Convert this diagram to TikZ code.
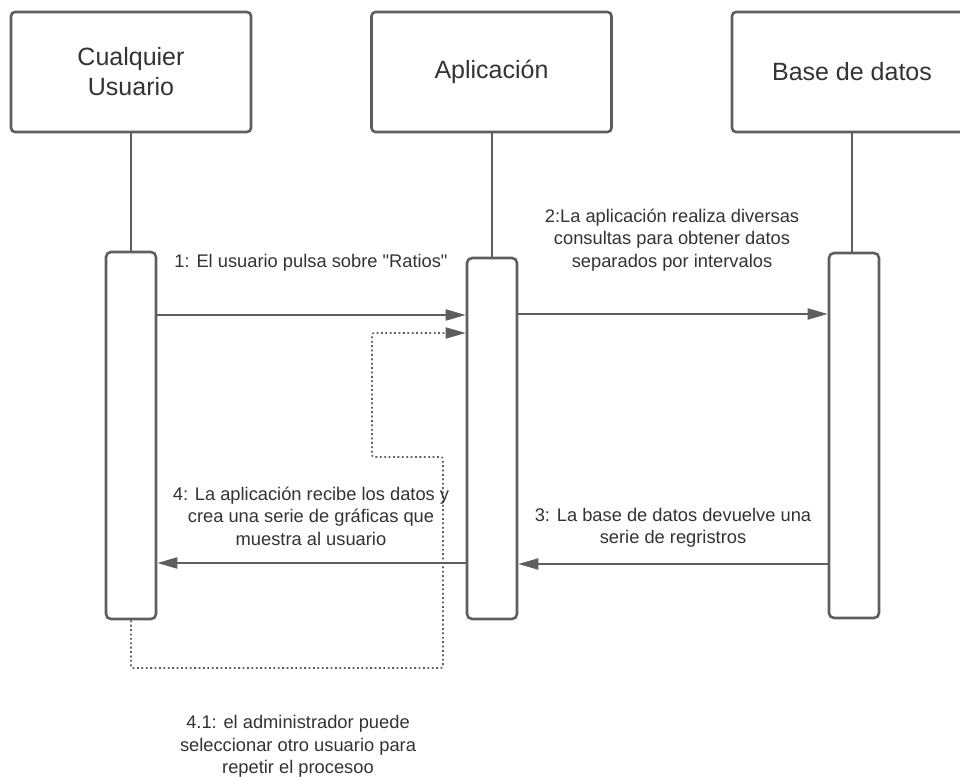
\documentclass[tikz,border=0pt]{standalone}
\usepackage{fontspec}
\setmainfont{Liberation Sans}[Ligatures=TeXOff]
\usetikzlibrary{arrows.meta}
\definecolor{linegray}{HTML}{5E5E5E}
\definecolor{textgray}{HTML}{333333}
\tikzset{
  actor/.style={draw=linegray, line width=2.6pt, rounded corners=4pt, fill=white,
    minimum width=240pt, minimum height=120pt, inner sep=0pt, align=center,
    text=textgray, font=\fontsize{25}{30}\selectfont},
  bar/.style={draw=linegray, line width=2.6pt, rounded corners=5pt, fill=white,
    minimum width=50pt, inner sep=0pt},
  lifeline/.style={draw=linegray, line width=2pt},
  msg/.style={draw=linegray, line width=2pt, -{Triangle[length=20pt,width=11pt]}, color=linegray},
  loopback/.style={draw=linegray, line width=1.6pt, dash pattern=on 1.8pt off 2.6pt,
    rounded corners=2pt, -{Triangle[length=20pt,width=11pt]}, color=linegray},
  lbl/.style={align=center, text=textgray, inner sep=0pt, font=\fontsize{18.3}{22.5}\selectfont}
}
\begin{document}
\begin{tikzpicture}[x=1pt, y=-1pt]
  \useasboundingbox (0,0) rectangle (960,776);
  \clip (0,0) rectangle (960,776);
  \fill[white] (0,0) rectangle (960,776);

  % participants
  \node[actor] (user) at (131,72) {Cualquier\\Usuario};
  \node[actor] (app)  at (491.5,72) {Aplicación};
  \node[actor] (db)   at (852,72) {Base de datos};

  % activation bars
  \node[bar, minimum height=367pt] (ubar) at (131,435.5) {};
  \node[bar, minimum height=361pt] (abar) at (492,438.5) {};
  \node[bar, minimum height=365pt] (dbar) at (854,435.5) {};

  % lifelines
  \draw[lifeline] (user.south) -- (ubar.north);
  \draw[lifeline] (app.south) -- (app.south |- abar.north);
  \draw[lifeline] (db.south) -- (db.south |- dbar.north);

  % messages
  \draw[msg] (ubar.east |- 0,315) -- (abar.west |- 0,315);
  \draw[msg] (abar.east |- 0,314) -- (dbar.west |- 0,314);
  \draw[msg] (dbar.west |- 0,564) -- (abar.east |- 0,564);
  \draw[msg] (abar.west |- 0,563) -- (ubar.east |- 0,563);

  % repeat loop
  \coordinate (lp1) at (443,668);
  \coordinate (lp2) at (443,457);
  \coordinate (lp3) at (372,457);
  \coordinate (lp4) at (372,333);
  \draw[loopback] (ubar.south) |- (lp1) -- (lp2) -- (lp3) -- (lp4) -- (abar.west |- lp4);

  % labels
  \node[lbl] (l1) at (311,263) {1: El usuario pulsa sobre "Ratios"};
  \node[lbl] (l2) at (672,240) {2:La aplicación realiza diversas\\consultas para obtener datos\\separados por intervalos};
  \node[lbl] (l3) at (673,528) {3: La base de datos devuelve una\\serie de regristros};
  \node[lbl] (l4) at (311,516) {4: La aplicación recibe los datos y\\crea una serie de gráficas que\\muestra al usuario};
  \node[lbl] (l41) at (298,746.5) {4.1: el administrador puede\\seleccionar otro usuario para\\repetir el procesoo};
\end{tikzpicture}
\end{document}
